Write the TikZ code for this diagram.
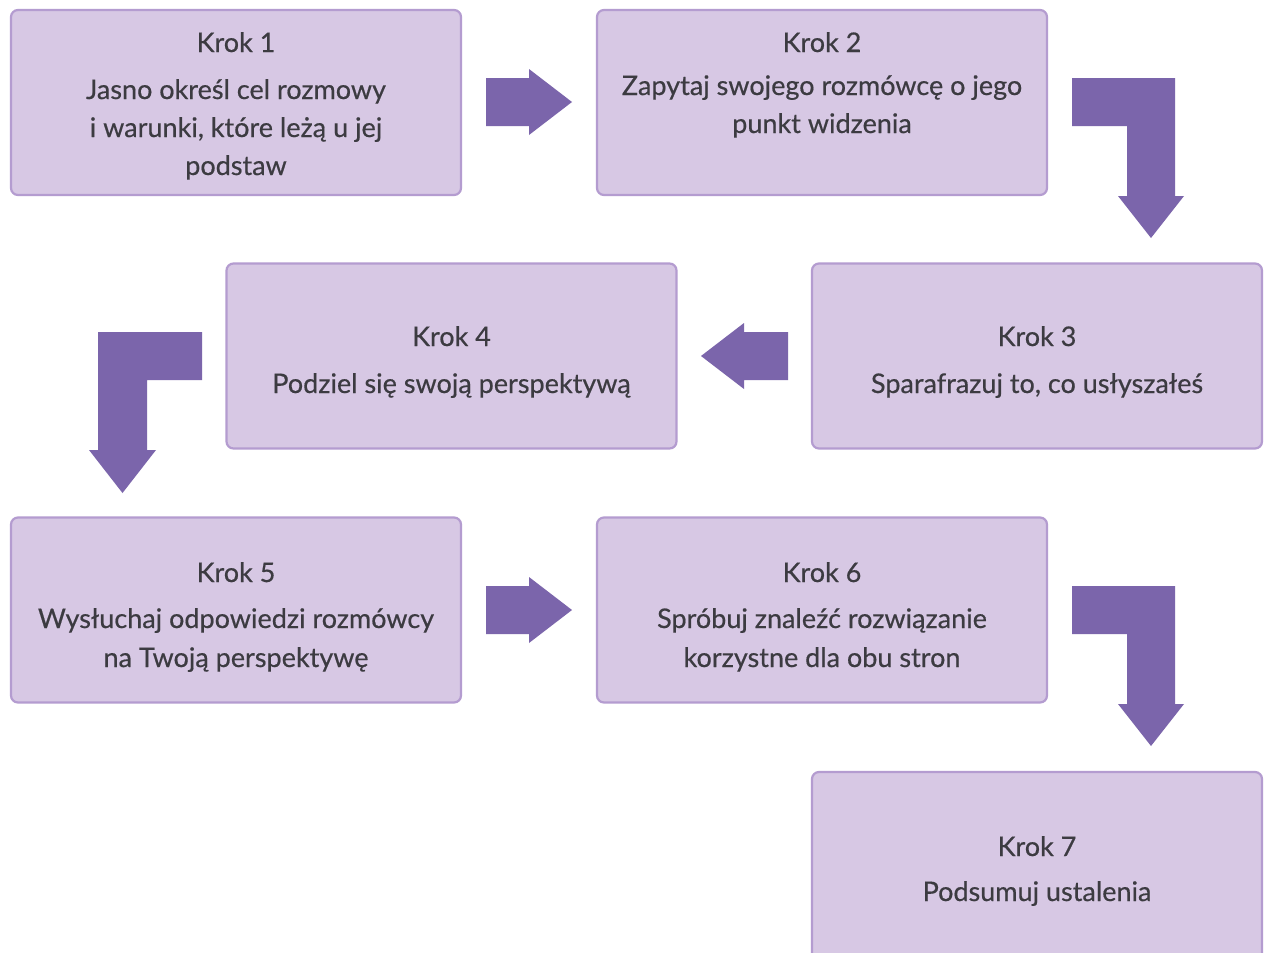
\documentclass[tikz,border=0pt]{standalone}
\usepackage{fontspec}
\setmainfont{Lato}
\newfontface\stepface{Lato}[FakeBold=0.5]
\definecolor{boxfill}{HTML}{D7C8E4}
\definecolor{boxline}{HTML}{B49CD0}
\definecolor{arrowfill}{HTML}{7B65AB}
\definecolor{ink}{HTML}{3C3B41}
\tikzset{
  stepbox/.style={draw=boxline, fill=boxfill, line width=2.2pt, rounded corners=7pt,
    minimum width=450pt, minimum height=185pt, inner sep=0pt},
  steptext/.style={anchor=base, text=ink, inner sep=0pt,
    font=\stepface\fontsize{27pt}{32pt}\selectfont},
  blockarrow/.style={fill=arrowfill, draw=none}
}
\begin{document}
\begin{tikzpicture}[x=1pt,y=-1pt]
\clip (0,0) rectangle (1267,953);
\fill[white] (0,0) rectangle (1267,953);

% step boxes
\node[stepbox] (s1) at (236,102.5) {};
\node[stepbox] (s2) at (822,102.5) {};
\node[stepbox] (s3) at (1037,356) {};
\node[stepbox] (s4) at (451.5,356) {};
\node[stepbox] (s5) at (236,610) {};
\node[stepbox] (s6) at (822,610) {};
\node[stepbox, minimum height=189pt] (s7) at (1037,866.5) {};

% step texts
\node[steptext] (t1)  at (236,52)  {Krok 1};
\node[steptext] (t1a) at (236,99)  {Jasno określ cel rozmowy};
\node[steptext] (t1b) at (236,137) {i warunki, które leżą u jej};
\node[steptext] (t1c) at (236,175) {podstaw};

\node[steptext] (t2)  at (822,52)  {Krok 2};
\node[steptext] (t2a) at (822,95)  {Zapytaj swojego rozmówcę o jego};
\node[steptext] (t2b) at (822,133) {punkt widzenia};

\node[steptext] (t3)  at (1037,346) {Krok 3};
\node[steptext] (t3a) at (1037,393) {Sparafrazuj to, co usłyszałeś};

\node[steptext] (t4)  at (451.5,346) {Krok 4};
\node[steptext] (t4a) at (451.5,393) {Podziel się swoją perspektywą};

\node[steptext] (t5)  at (236,582) {Krok 5};
\node[steptext] (t5a) at (236,628) {Wysłuchaj odpowiedzi rozmówcy};
\node[steptext] (t5b) at (236,667) {na Twoją perspektywę};

\node[steptext] (t6)  at (822,582) {Krok 6};
\node[steptext] (t6a) at (822,628) {Spróbuj znaleźć rozwiązanie};
\node[steptext] (t6b) at (822,667) {korzystne dla obu stron};

\node[steptext] (t7)  at (1037,856) {Krok 7};
\node[steptext] (t7a) at (1037,901) {Podsumuj ustalenia};

% block arrows between the steps
% 1 -> 2
\fill[blockarrow] (486,78) -- (529,78) -- (529,69) -- (572,102) -- (529,135)
  -- (529,126) -- (486,126) -- cycle;
% 2 -> 3 (bent)
\fill[blockarrow] (1072,78) -- (1175,78) -- (1175,196) -- (1184,196) -- (1151,238)
  -- (1118,196) -- (1127,196) -- (1127,126) -- (1072,126) -- cycle;
% 3 -> 4
\fill[blockarrow] (788,332) -- (744,332) -- (744,323) -- (701,356) -- (744,389)
  -- (744,380) -- (788,380) -- cycle;
% 4 -> 5 (bent)
\fill[blockarrow] (202,332) -- (98,332) -- (98,450) -- (89,450) -- (122.5,493)
  -- (156,450) -- (147,450) -- (147,380) -- (202,380) -- cycle;
% 5 -> 6
\fill[blockarrow] (486,586) -- (529,586) -- (529,577) -- (572,610) -- (529,643)
  -- (529,634) -- (486,634) -- cycle;
% 6 -> 7 (bent)
\fill[blockarrow] (1072,586) -- (1175,586) -- (1175,704) -- (1184,704) -- (1151,746)
  -- (1118,704) -- (1127,704) -- (1127,634) -- (1072,634) -- cycle;
\end{tikzpicture}
\end{document}
